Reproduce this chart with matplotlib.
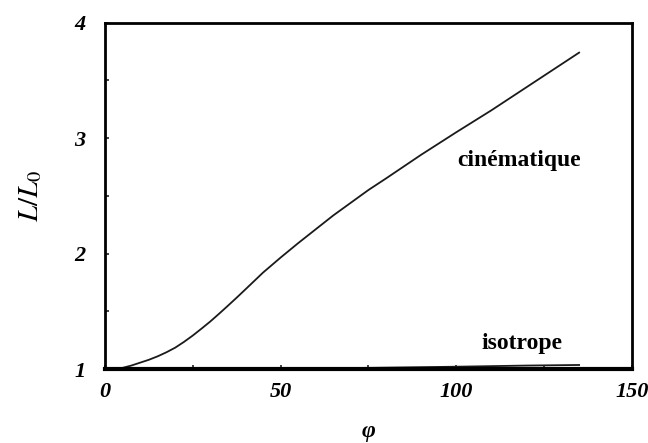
import matplotlib
matplotlib.use("Agg")
import matplotlib.pyplot as plt
from matplotlib.ticker import MultipleLocator

# data
phi_cin = [0, 5, 7.5, 10, 12.5, 15, 17.5, 20, 22.5, 25, 27.5, 30, 32.5, 35, 37.5, 40,
           45, 50, 55, 60, 65, 70, 75, 80, 90, 100, 110, 120, 130, 135]
L_cin = [1.0, 1.01, 1.03, 1.055, 1.08, 1.11, 1.145, 1.185, 1.235, 1.29, 1.35, 1.412,
         1.479, 1.548, 1.618, 1.69, 1.835, 1.965, 2.09, 2.21, 2.33, 2.44, 2.55, 2.65,
         2.855, 3.05, 3.24, 3.44, 3.64, 3.74]
phi_iso = [0, 25, 50, 75, 100, 120, 135]
L_iso = [1.0, 1.0, 1.005, 1.01, 1.02, 1.03, 1.035]

xticks = [0, 50, 100, 150]
yticks = [1, 2, 3, 4]

plt.rcParams['mathtext.fontset'] = 'stix'

fig = plt.figure(figsize=(6.48, 4.43), dpi=100)
ax = fig.add_axes([0.162, 0.167, 0.813, 0.782])

ax.plot(phi_cin, L_cin, color='#1a1a1a', lw=1.3)
ax.plot(phi_iso, L_iso, color='#1a1a1a', lw=1.3)

ax.set_xlim(0, 150)
ax.set_ylim(1, 4)
ax.set_xticks(xticks)
ax.set_yticks(yticks)
ax.xaxis.set_minor_locator(MultipleLocator(25))
ax.yaxis.set_minor_locator(MultipleLocator(0.5))
ax.tick_params(which='both', direction='in', length=3, width=1.2, color='#222222')
ax.tick_params(axis='x', which='major', pad=9)
ax.tick_params(axis='y', which='major', pad=14)

tfont = dict(family='Liberation Serif', weight='bold', style='italic', size=16)
ax.set_xticklabels([str(v) for v in xticks], fontdict=tfont)
ax.set_yticklabels([str(v) for v in yticks], fontdict=tfont)

for s in ['left', 'top', 'right']:
    ax.spines[s].set_linewidth(2.0)
ax.spines['bottom'].set_linewidth(3.0)

ax.set_ylabel(r'$L/L_0$', fontsize=21, labelpad=22)
ax.set_xlabel('φ', family='Liberation Serif', weight='bold', style='italic',
              fontsize=17, labelpad=14)

ax.text(100.2, 2.81, 'cinématique', family='Liberation Serif', weight='bold',
        fontsize=17, va='center', ha='left')
ax.text(107.3, 1.225, 'isotrope', family='Liberation Serif', weight='bold',
        fontsize=17, va='center', ha='left')

fig.savefig('out.png', dpi=100)
